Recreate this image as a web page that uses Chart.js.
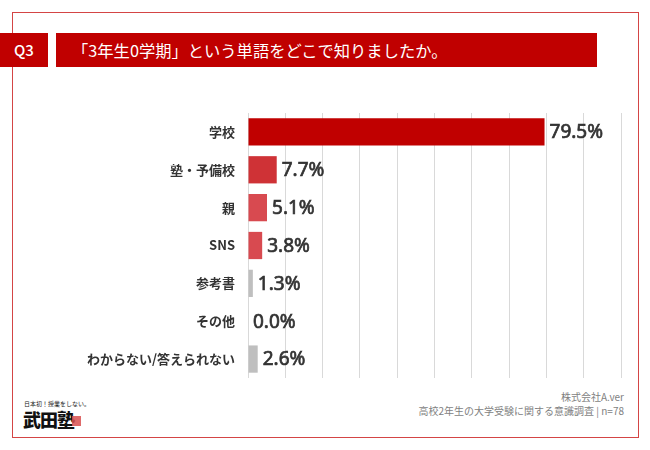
<!DOCTYPE html>
<html><head><meta charset="utf-8">
<script src="https://cdn.jsdelivr.net/npm/chart.js@4"></script>
<style>
html,body{margin:0;padding:0;background:#fff;width:650px;height:450px;overflow:hidden;font-family:"Noto Sans CJK JP","Noto Sans",sans-serif;}
#frame{position:absolute;left:12px;top:12px;width:627px;height:426px;border:1.5px solid #D44545;box-sizing:border-box;}
#q{position:absolute;left:0;top:33px;width:48px;height:34px;background:#C00000;color:#fff;font-size:15px;font-weight:500;line-height:34px;text-align:center;}
#title{position:absolute;left:56px;top:33px;width:541px;height:34px;background:#C00000;color:#fff;font-size:16.3px;line-height:34px;padding-left:16px;box-sizing:border-box;white-space:nowrap;}
#wrap{position:absolute;left:0;top:113px;width:650px;height:265px;}
.foot{position:absolute;right:26px;color:#7F7F7F;font-size:10px;line-height:14px;text-align:right;white-space:nowrap;}
#logo1{position:absolute;left:24px;top:399px;font-size:6px;color:#222;white-space:nowrap;}
#logo2{position:absolute;left:23px;top:406px;font-size:18px;font-weight:900;color:#111;letter-spacing:-1px;white-space:nowrap;}
#stamp{position:absolute;left:72px;top:416px;width:9px;height:10px;background:#D85050;opacity:0.85;}
</style></head>
<body>
<div id="frame"></div>
<div id="q">Q3</div>
<div id="title">「3年生0学期」という単語をどこで知りましたか。</div>
<div id="wrap"><canvas id="c"></canvas></div>
<div id="logo1">日本初！授業をしない。</div>
<div id="logo2">武田塾</div>
<div id="stamp"></div>
<div class="foot" style="top:390px;">株式会社A.ver</div>
<div class="foot" style="top:404px;">高校2年生の大学受験に関する意識調査 | n=78</div>
<script>
const categories = ["学校", "塾・予備校", "親", "SNS", "参考書", "その他", "わからない/答えられない"];
const values = [79.5, 7.7, 5.1, 3.8, 1.3, 0.0, 2.6];
const barColors = ["#C00000", "#CF3236", "#D84A50", "#D84A50", "#BFBFBF", "#BFBFBF", "#BFBFBF"];
const xTicks = [0, 10, 20, 30, 40, 50, 60, 70, 80, 90, 100];

const valueLabels = {
  id: 'valueLabels',
  afterDatasetsDraw(chart) {
    const ctx = chart.ctx;
    const meta = chart.getDatasetMeta(0);
    ctx.save();
    ctx.font = '19px "Noto Sans","Noto Sans CJK JP",sans-serif';
    ctx.fillStyle = '#333333';
    ctx.strokeStyle = '#333333';
    ctx.lineWidth = 0.7;
    ctx.textAlign = 'left';
    ctx.textBaseline = 'middle';
    meta.data.forEach((bar, i) => {
      const t = values[i].toFixed(1) + '%';
      ctx.fillText(t, bar.x + 5, bar.y + 1);
      ctx.strokeText(t, bar.x + 5, bar.y + 1);
    });
    ctx.restore();
  }
};

new Chart(document.getElementById('c'), {
  type: 'bar',
  data: {
    labels: categories,
    datasets: [{
      data: values,
      backgroundColor: barColors,
      borderColor: barColors,
      borderWidth: 0,
      barPercentage: 0.72,
      categoryPercentage: 1.0
    }]
  },
  options: {
    indexAxis: 'y',
    responsive: true,
    maintainAspectRatio: false,
    animation: false,
    layout: { padding: { left: 0, right: 29, top: 0, bottom: 0 } },
    plugins: { legend: { display: false }, tooltip: { enabled: false } },
    scales: {
      x: {
        min: 0, max: 100,
        afterBuildTicks(scale) { scale.ticks = xTicks.map(v => ({ value: v })); },
        afterFit(scale) { scale.height = 0; },
        ticks: { display: false },
        grid: { color: '#D9D9D9', lineWidth: 1, drawTicks: false },
        border: { display: false }
      },
      y: {
        afterFit(scale) { scale.width = 248; scale.paddingTop = 0; scale.paddingBottom = 0; },
        ticks: {
          color: '#333333',
          padding: 13,
          font: { family: '"Noto Sans CJK JP","Noto Sans",sans-serif', size: 13, weight: 'bold' }
        },
        grid: { display: false, drawTicks: false },
        border: { display: false }
      }
    }
  },
  plugins: [valueLabels]
});
</script>
</body></html>
